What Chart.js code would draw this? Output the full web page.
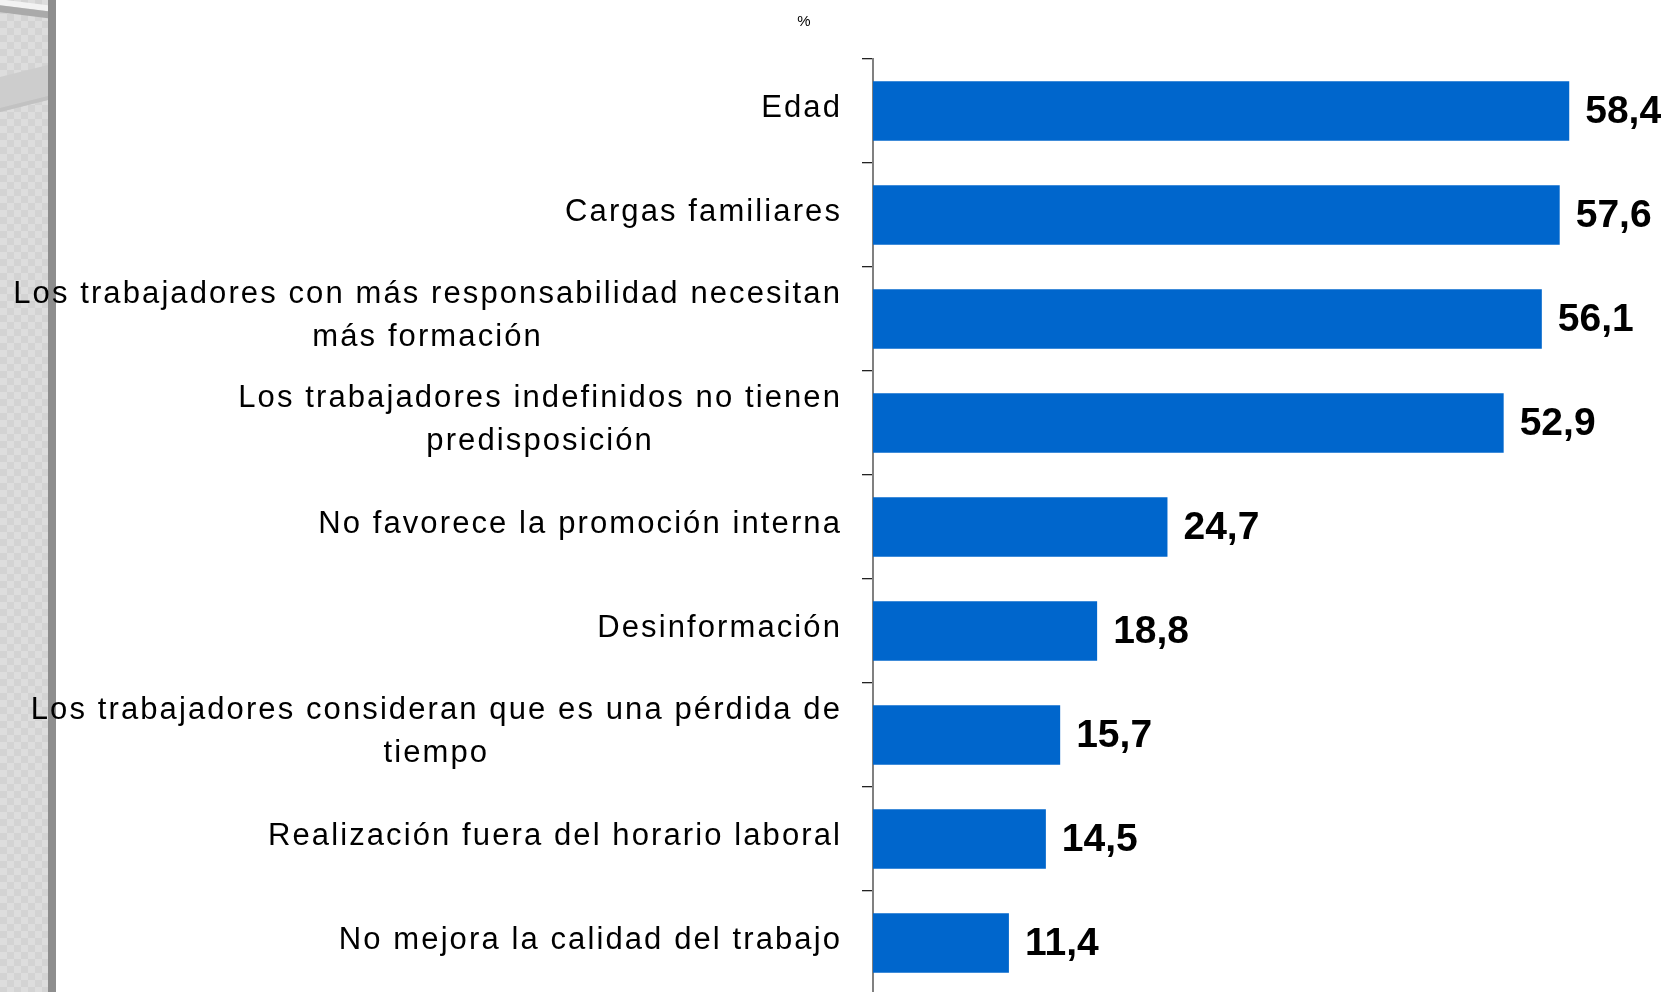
<!DOCTYPE html>
<html>
<head>
<meta charset="utf-8">
<script src="https://cdn.jsdelivr.net/npm/chart.js@4.4.1/dist/chart.umd.min.js"></script>
<style>
html,body{margin:0;padding:0;background:#fff;overflow:hidden;width:1667px;height:992px;}
#deco{position:absolute;left:0;top:0;width:48px;height:992px;overflow:hidden;background-color:#d8d8d8;
  background-image:repeating-conic-gradient(#d3d3d3 0 25%, #dddddd 0 50%);background-size:14px 14px;}
#deco .a{position:absolute;left:-20px;width:100px;}
#stripe{position:absolute;left:48px;top:0;width:8px;height:992px;background:#8e8e8e;}
#wrap{position:absolute;left:0;top:0;width:1667px;height:1000px;}
</style>
</head>
<body>
<div id="deco">
  <div class="a" style="top:3px;height:6px;background:#f2f2f2;transform:rotate(7deg);"></div>
  <div class="a" style="top:9px;height:7px;background:#aaaaaa;transform:rotate(7deg);"></div>
  <div class="a" style="top:70px;height:30px;background:#cdcdcd;transform:rotate(-14deg);border-bottom:4px solid #c2c2c2;"></div>
</div>
<div id="stripe"></div>
<div id="wrap"><canvas id="c"></canvas></div>
<script>
const categories = [
  ["Edad"],
  ["Cargas familiares"],
  ["Los trabajadores con más responsabilidad necesitan", "más formación"],
  ["Los trabajadores indefinidos no tienen", "predisposición"],
  ["No favorece la promoción interna"],
  ["Desinformación"],
  ["Los trabajadores consideran que es una pérdida de", "tiempo"],
  ["Realización fuera del horario laboral"],
  ["No mejora la calidad del trabajo"]
];
const values = [58.4, 57.6, 56.1, 52.9, 24.7, 18.8, 15.7, 14.5, 11.4];
const unitLabel = "%";

const labelPlugin = {
  id: 'labelPlugin',
  afterDraw(chart) {
    const ctx = chart.ctx;
    const yScale = chart.scales.y;
    ctx.save();
    ctx.fillStyle = '#000';
    ctx.font = '31px "Liberation Sans", Arial, sans-serif';
    ctx.letterSpacing = '2.1px';
    ctx.textAlign = 'center';
    ctx.textBaseline = 'alphabetic';
    const blockRight = 842;
    categories.forEach((lines, i) => {
      const yc = yScale.getPixelForValue(i);
      const widths = lines.map(l => ctx.measureText(l).width);
      const bw = Math.max(...widths);
      const cx = blockRight - bw / 2;
      if (lines.length === 1) {
        ctx.fillText(lines[0], blockRight - widths[0] / 2, yc + 6);
      } else {
        ctx.fillText(lines[0], cx, yc - 16);
        ctx.fillText(lines[1], cx, yc + 27);
      }
    });
    ctx.letterSpacing = '0px';
    ctx.textAlign = 'left';
    ctx.font = 'bold 39px "Liberation Sans", Arial, sans-serif';
    const meta = chart.getDatasetMeta(0);
    meta.data.forEach((bar, i) => {
      ctx.fillText(values[i].toFixed(1).replace('.', ','), bar.x + 16, bar.y + 12);
    });
    ctx.font = '15px "Liberation Sans", Arial, sans-serif';
    ctx.textAlign = 'center';
    ctx.fillText(unitLabel, 804, 26);
    ctx.restore();
  }
};

new Chart(document.getElementById('c'), {
  type: 'bar',
  data: {
    labels: categories,
    datasets: [{
      data: values,
      backgroundColor: '#0066cc',
      borderWidth: 0,
      barPercentage: 0.57,
      categoryPercentage: 1
    }]
  },
  options: {
    indexAxis: 'y',
    responsive: true,
    maintainAspectRatio: false,
    animation: false,
    layout: { padding: { top: 59, bottom: 5, left: 0, right: 0 } },
    plugins: { legend: { display: false }, tooltip: { enabled: false } },
    scales: {
      x: { display: false, min: 0, max: 66.6 },
      y: {
        position: 'left',
        ticks: { display: false },
        grid: { display: true, drawOnChartArea: false, drawTicks: true, tickLength: 11, color: '#222', lineWidth: 1.3, offset: true },
        border: { display: true, color: '#808080', width: 2 },
        afterFit(s) { s.width = 873; }
      }
    }
  },
  plugins: [labelPlugin]
});
</script>
</body>
</html>
